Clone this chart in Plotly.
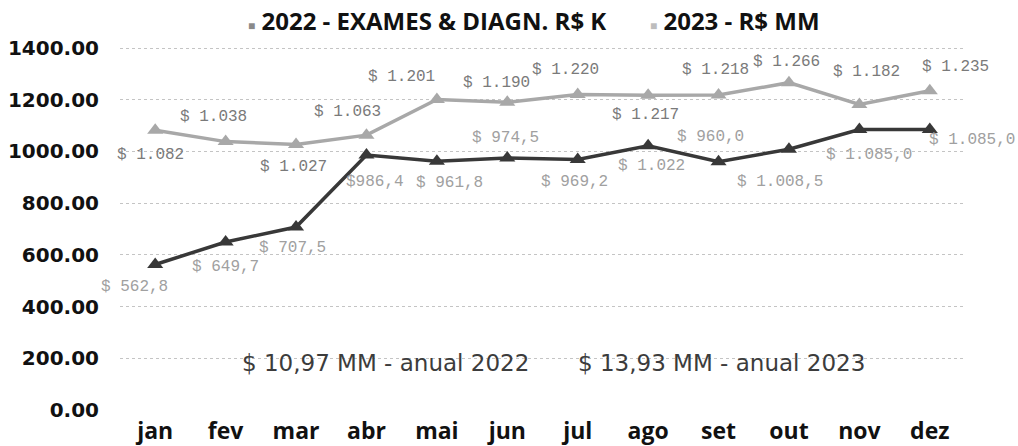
import plotly.graph_objects as go

months = ["jan", "fev", "mar", "abr", "mai", "jun", "jul", "ago", "set", "out", "nov", "dez"]
y_ticks = [0, 200, 400, 600, 800, 1000, 1200, 1400]
y_tick_text = ["0.00", "200.00", "400.00", "600.00", "800.00", "1000.00", "1200.00", "1400.00"]

name_2022 = "2022 - EXAMES & DIAGN. R$ K"
name_2023 = "2023 - R$ MM"

values_2022 = [562.8, 649.7, 707.5, 986.4, 961.8, 974.5, 969.2, 1022.0, 960.0, 1008.5, 1085.0, 1085.0]
values_2023 = [1082, 1038, 1027, 1063, 1201, 1190, 1220, 1217, 1218, 1266, 1182, 1235]

labels_2022 = ["$ 562,8", "$ 649,7", "$ 707,5", "$986,4", "$ 961,8", "$ 974,5",
               "$ 969,2", "$ 1.022", "$ 960,0", "$ 1.008,5", "$ 1.085,0", "$ 1.085,0"]
labels_2023 = ["$ 1.082", "$ 1.038", "$ 1.027", "$ 1.063", "$ 1.201", "$ 1.190",
               "$ 1.220", "$ 1.217", "$ 1.218", "$ 1.266", "$ 1.182", "$ 1.235"]

total_2022 = "$ 10,97 MM - anual 2022"
total_2023 = "$ 13,93 MM - anual 2023"

# label placement offsets (pixels)
shift_2022 = [(-21, -23), (0, -25), (-4, -21), (9, -27), (13, -22), (-2, 20),
              (-3, -23), (3, -20), (-8, 25), (-9, -33), (10, -26), (42, -11)]
shift_2023 = [(-5, -25), (-12, 25), (-3, -23), (-19, 23), (-35, 22), (-11, 19),
              (-12, 25), (-3, -20), (-3, 25), (-2, 21), (7, 32), (26, 24)]

c2022 = "#383838"
c2023 = "#a8a8a8"
lab2022 = "#a0a0a0"
lab2023 = "#7a7a7a"

fig = go.Figure()
fig.add_trace(go.Scatter(x=months, y=values_2022, mode="lines+markers", name=name_2022,
                         showlegend=False,
                         line=dict(color=c2022, width=3.5),
                         marker=dict(symbol="triangle-up", size=14, color=c2022)))
fig.add_trace(go.Scatter(x=months, y=values_2023, mode="lines+markers", name=name_2023,
                         showlegend=False,
                         line=dict(color=c2023, width=3.5),
                         marker=dict(symbol="triangle-up", size=14, color=c2023)))

annos = []
for m, v, t, (dx, dy) in zip(months, values_2022, labels_2022, shift_2022):
    annos.append(dict(x=m, y=v, text=t, showarrow=False, xshift=dx, yshift=dy,
                      font=dict(family="Liberation Mono", size=16, color=lab2022)))
for m, v, t, (dx, dy) in zip(months, values_2023, labels_2023, shift_2023):
    annos.append(dict(x=m, y=v, text=t, showarrow=False, xshift=dx, yshift=dy,
                      font=dict(family="Liberation Mono", size=16, color=lab2023)))
annos.append(dict(x=0.314, xref="paper", xanchor="center", y=182, text=total_2022,
                  showarrow=False, font=dict(family="DejaVu Sans", size=23, color="#3c3c3c")))
annos.append(dict(x=0.712, xref="paper", xanchor="center", y=182, text=total_2023,
                  showarrow=False, font=dict(family="DejaVu Sans", size=23, color="#3c3c3c")))

# legend-like header
legend_text = ("<span style='color:#8a8a8a;font-size:12px'>■</span> <b>" + name_2022 + "</b>"
               "       <span style='color:#bdbdbd;font-size:12px'>■</span> <b>" + name_2023 + "</b>")
annos.append(dict(x=0.49, xref="paper", xanchor="center", y=0.975, yref="paper",
                  yanchor="middle", text=legend_text, showarrow=False,
                  font=dict(family="Open Sans", size=24, color="#111111")))

fig.update_layout(
    width=1018, height=446,
    margin=dict(l=120, r=53, t=10, b=36),
    paper_bgcolor="white", plot_bgcolor="white",
    annotations=annos,
    showlegend=False,
    xaxis=dict(type="category", range=[-0.5, 11.5], showgrid=False, zeroline=False,
               showline=False, ticks="", tickangle=0, automargin=False,
               tickfont=dict(family="Open Sans", size=23, color="#111111", weight="bold"),
               ticklabelstandoff=5),
    yaxis=dict(range=[0, 1547], tickvals=y_ticks, ticktext=y_tick_text, automargin=False,
               showgrid=True, gridcolor="#c4c4c4", griddash="dot", gridwidth=1,
               zeroline=False, showline=False, ticks="",
               tickfont=dict(family="DejaVu Sans", size=20, color="#111111", weight="bold"),
               ticklabelstandoff=20),
)

fig.write_html("out.html", config={"displayModeBar": False},
               post_script="document.body.style.margin='0';document.body.style.overflow='hidden';")
